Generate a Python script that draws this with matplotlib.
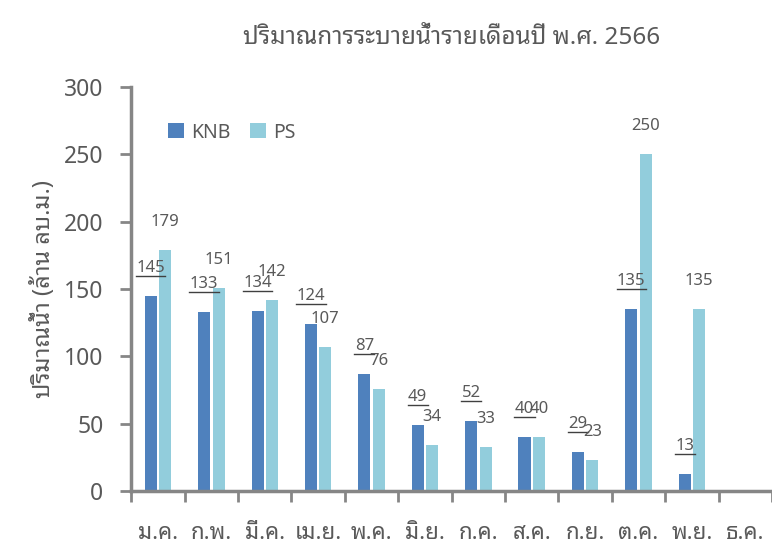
import matplotlib
matplotlib.use('Agg')
import matplotlib.pyplot as plt
from matplotlib.transforms import offset_copy
import numpy as np

months = ['ม.ค.', 'ก.พ.', 'มี.ค.', 'เม.ย.', 'พ.ค.', 'มิ.ย.',
          'ก.ค.', 'ส.ค.', 'ก.ย.', 'ต.ค.', 'พ.ย.', 'ธ.ค.']
knb = [145, 133, 134, 124, 87, 49, 52, 40, 29, 135, 13]
ps = [179, 151, 142, 107, 76, 34, 33, 40, 23, 250, 135]
y_ticks = [0, 50, 100, 150, 200, 250, 300]

title = 'ปริมาณการระบายน้ำรายเดือนปี พ.ศ. 2566'
y_label = 'ปริมาณน้ำ (ล้าน ลบ.ม.)'

plt.rcParams['font.family'] = ['Noto Sans Thai Looped', 'Noto Sans', 'DejaVu Sans']

TEXT = '#595959'
AXIS = '#868686'
C_KNB = '#4F81BD'
C_PS = '#92CDDC'

fig = plt.figure(figsize=(7.72, 5.46), dpi=100)
ax = fig.add_axes([0.170, 0.1007, 0.83, 0.74])

x = np.arange(len(months))
w = 0.225
ax.bar(x[:len(knb)] - 0.135, knb, w, color=C_KNB, label='KNB')
ax.bar(x[:len(ps)] + 0.135, ps, w, color=C_PS, label='PS')

# data labels, KNB ones underlined
under = offset_copy(ax.transData, fig=fig, x=0, y=20, units='dots')
for i, v in enumerate(knb):
    ax.annotate(str(v), (i - 0.135, v), xytext=(0, 28), textcoords='offset pixels',
                ha='center', va='center', fontsize=12, color=TEXT)
    hw = 0.088 * len(str(v)) + 0.012
    ax.plot([i - 0.135 - hw, i - 0.135 + hw], [v, v], transform=under,
            color='#404040', lw=1)
for i, v in enumerate(ps):
    ax.annotate(str(v), (i + 0.135, v), xytext=(0, 28), textcoords='offset pixels',
                ha='center', va='center', fontsize=12, color=TEXT)

ax.set_xlim(-0.5, 11.5)
ax.set_ylim(0, 300)
ax.set_yticks(y_ticks)
ax.set_xticks(np.arange(-0.5, 12, 1))
ax.set_xticklabels([])
ax.set_xticks(x, minor=True)
ax.set_xticklabels(months, minor=True, fontsize=16, color=TEXT)
ax.tick_params(axis='x', which='minor', length=0, pad=23)
ax.tick_params(axis='x', which='major', length=8, width=2, color=AXIS, direction='out')
ax.tick_params(axis='y', length=8, width=2, color=AXIS, direction='out',
               labelsize=16.5, labelcolor=TEXT, pad=12)

for s in ['top', 'right']:
    ax.spines[s].set_visible(False)
for s in ['left', 'bottom']:
    ax.spines[s].set_color(AXIS)
    ax.spines[s].set_linewidth(2.5)

ax.set_ylabel(y_label, fontsize=17, color=TEXT, labelpad=6)
fig.text(0.585, 0.93, title, ha='center', va='center', fontsize=17.5, color=TEXT)

ax.legend(loc='upper left', bbox_to_anchor=(0.03, 0.955), ncol=2, frameon=False,
          fontsize=14, labelcolor=TEXT, handlelength=0.8, handleheight=0.8,
          columnspacing=1.0, handletextpad=0.4)

fig.savefig('out.png', dpi=100)
